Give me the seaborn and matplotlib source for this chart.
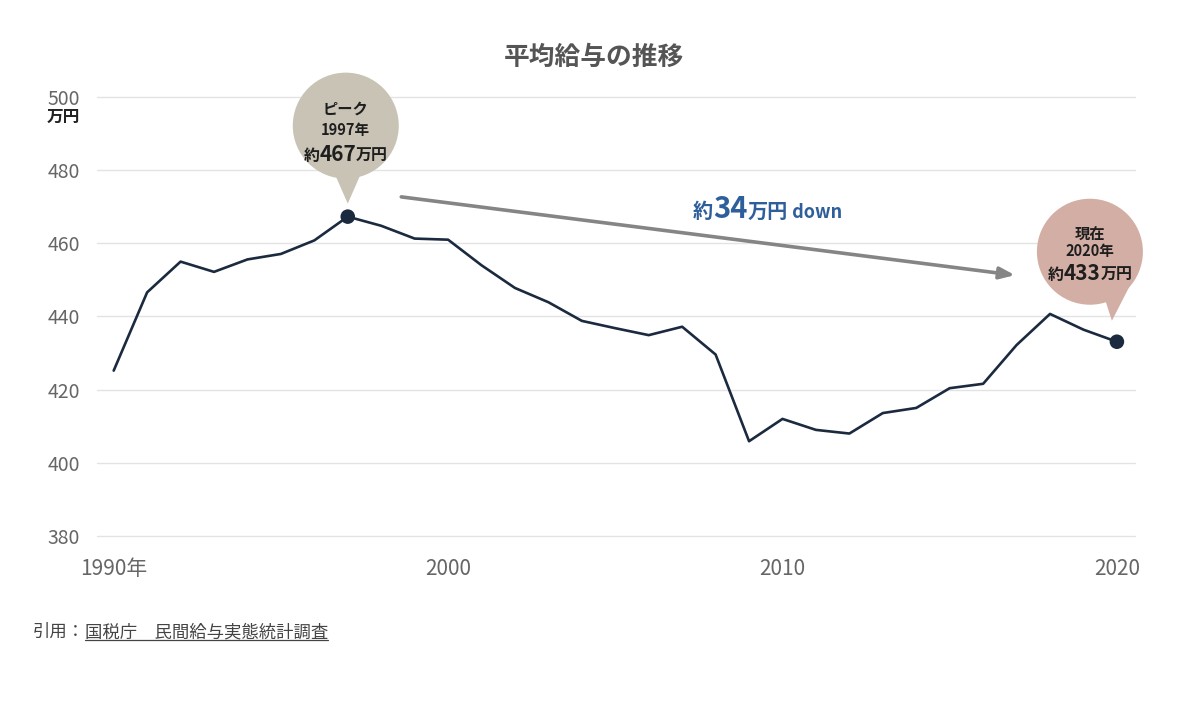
#Import Libraries
import pandas as pd
import matplotlib.pyplot as plt
import matplotlib.transforms as mtransforms
from matplotlib.patches import Circle, Polygon
import seaborn as sns

#Chart data (国税庁 民間給与実態統計調査, 万円)
years = list(range(1990, 2021))
salary = [425.2, 446.6, 455.0, 452.2, 455.6, 457.1, 460.8, 467.3, 464.8, 461.3,
          461.0, 454.0, 447.8, 443.9, 438.8, 436.8, 434.9, 437.2, 429.6, 405.9,
          412.0, 409.0, 408.0, 413.6, 415.0, 420.4, 421.6, 432.2, 440.7, 436.4,
          433.1]
x_ticks = [1990, 2000, 2010, 2020]
x_labels = ['1990年', '2000', '2010', '2020']
y_ticks = [380, 400, 420, 440, 460, 480, 500]
peak_year = 1997
now_year = 2020

df = pd.DataFrame({'year': years, 'salary': salary})
marks = df[df['year'].isin([peak_year, now_year])]

#Style
sns.set_style('white')
plt.rcParams['font.family'] = ['Noto Sans CJK JP', 'DejaVu Sans']

line_col = '#1b2a3e'
grey_txt = '#666666'

fig = plt.figure(figsize=(12, 7.23), dpi=100)
ax = fig.add_axes([0.0808, 0.2587, 0.865, 0.6071])

sns.lineplot(data=df, x='year', y='salary', color=line_col, linewidth=1.9, ax=ax, zorder=3)
sns.scatterplot(data=marks, x='year', y='salary', color=line_col, s=110, edgecolor='none',
                ax=ax, zorder=6)

ax.set_xlim(1989.5, 2020.54)
ax.set_ylim(380, 500)
ax.set_xticks(x_ticks)
ax.set_xticklabels(x_labels)
ax.set_yticks(y_ticks)
ax.tick_params(axis='x', length=0, pad=16, labelsize=15, labelcolor=grey_txt)
ax.tick_params(axis='y', length=0, pad=12, labelsize=14, labelcolor=grey_txt)
ax.set_xlabel('')
ax.set_ylabel('')
ax.yaxis.grid(True, color='#e3e3e3', linewidth=1)
for gl in ax.get_ygridlines():
    gl.set_clip_on(False)
sns.despine(ax=ax, left=True, bottom=True)

#Title, unit and source
fig.text(0.495, 1 - 57 / 723, '平均給与の推移', ha='center', va='center',
         fontsize=18.5, fontweight='bold', color='#555555')
fig.text(47 / 1200, 1 - 117 / 723, '万円', ha='left', va='center',
         fontsize=12, fontweight='bold', color='#222222')

renderer = fig.canvas.get_renderer()
pixels = mtransforms.IdentityTransform()


def rich_text(parts, trans, x, y, color, weight='bold'):
    #draw pieces of text with different sizes on one baseline, centred on x
    widths = []
    for txt, size in parts:
        t = fig.text(0, 0, txt, fontsize=size, fontweight=weight)
        widths.append(t.get_window_extent(renderer).width)
        t.remove()
    cur = x - sum(widths) / 2
    for (txt, size), w in zip(parts, widths):
        fig.text(cur, y, txt, fontsize=size, fontweight=weight, color=color,
                 ha='left', va='baseline', transform=trans, zorder=8)
        cur += w


def bubble(year, value, face, dx, dy, r, tri, lines):
    #speech bubble drawn in pixel units around a data point
    trans = mtransforms.Affine2D().scale(fig.dpi / 100) + \
        mtransforms.ScaledTranslation(year, value, ax.transData)
    fig.add_artist(Circle((dx, dy), r, transform=trans, facecolor=face,
                          edgecolor='none', zorder=5))
    fig.add_artist(Polygon(tri, closed=True, transform=trans, facecolor=face,
                           edgecolor='none', zorder=5))
    for yy, parts in lines:
        rich_text(parts, trans, dx, yy, '#1e1e1e')


val_peak = salary[years.index(peak_year)]
val_now = salary[years.index(now_year)]

bubble(peak_year, val_peak, '#c8c3b4', -2, 91, 53, [(-14, 45), (14, 45), (0, 13)],
       [(103, [('ピーク', 11)]),
        (82, [('1997年', 10.5)]),
        (56, [('約', 11.5), ('467', 15), ('万円', 11.5)])])

bubble(now_year, val_now, '#d3aea4', -27, 90, 53, [(-16, 55), (16, 62), (-5, 21)],
       [(102, [('現在', 11)]),
        (86, [('2020年', 10.5)]),
        (62, [('約', 11.5), ('433', 15), ('万円', 11.5)])])

#Trend arrow
ax.annotate('', xy=(2016.95, 451.3), xytext=(1998.6, 472.7),
            arrowprops=dict(arrowstyle='-|>,head_length=0.9,head_width=0.35',
                            color='#858585', linewidth=2.6, shrinkA=0, shrinkB=0),
            zorder=4)
px, py = ax.transData.transform((2009.55, 467.0))
rich_text([('約', 14.5), ('34', 21), ('万円', 14.5), (' down', 13)],
          pixels, px, py, '#2e5f9b')

#Source line with underline
src1 = fig.text(33 / 1200, 1 - 637 / 723, '引用：', fontsize=12.5, color='#444444',
                ha='left', va='baseline')
w1 = src1.get_window_extent(renderer)
src2 = fig.text(w1.x1 / 1200, 1 - 637 / 723, '国税庁　民間給与実態統計調査', fontsize=12.5,
                color='#444444', ha='left', va='baseline')
w2 = src2.get_window_extent(renderer)
fig.add_artist(plt.Line2D([w2.x0 / 1200, w2.x1 / 1200], [1 - 640 / 723, 1 - 640 / 723],
                          color='#444444', linewidth=0.9))

fig.savefig('out.png', dpi=100)
